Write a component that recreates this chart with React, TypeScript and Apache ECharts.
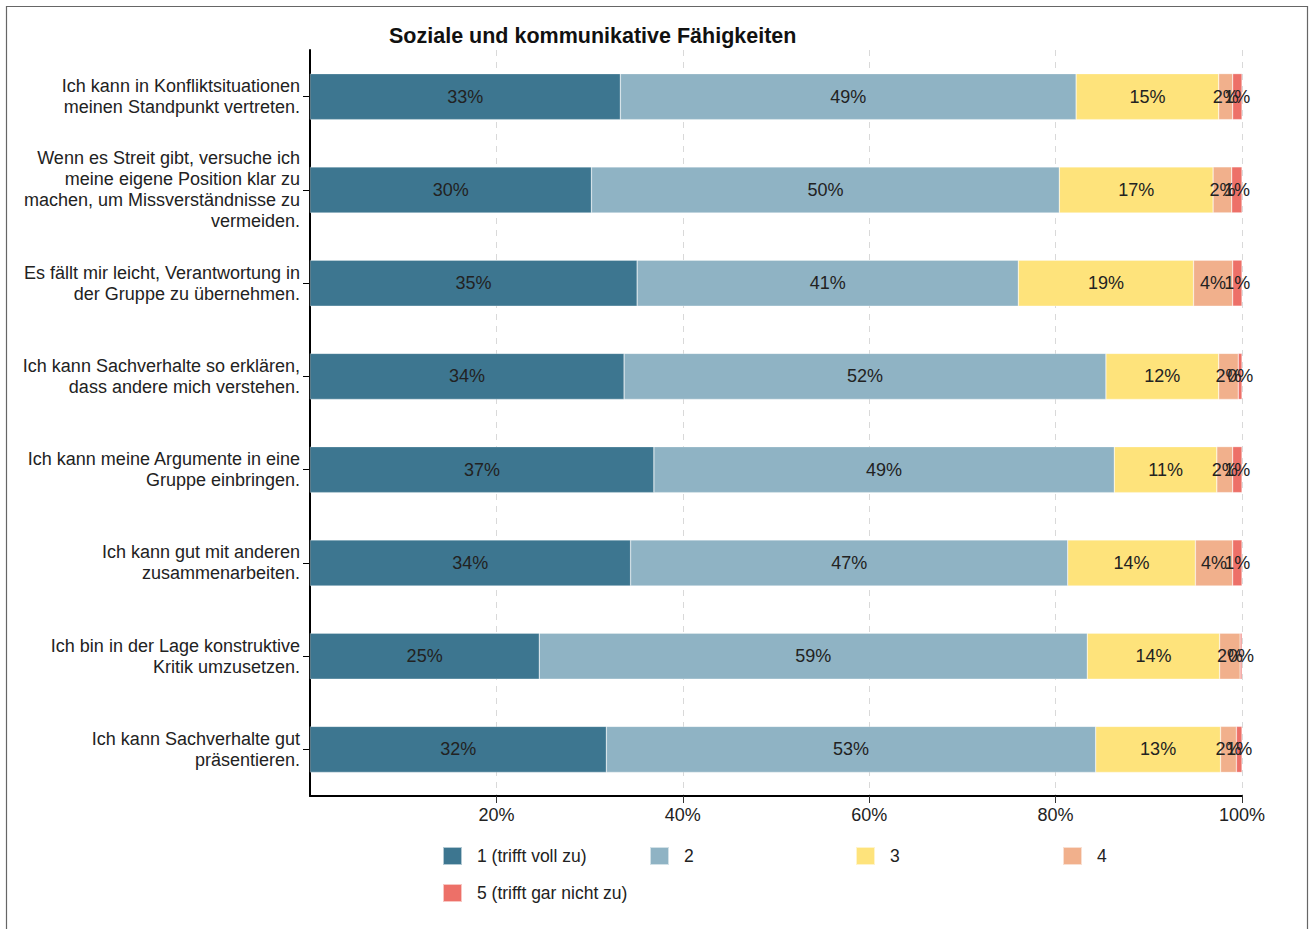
import React, { useEffect, useRef } from "react";
import * as echarts from "echarts";

const categories = [
  "Ich kann in Konfliktsituationen\nmeinen Standpunkt vertreten.",
  "Wenn es Streit gibt, versuche ich\nmeine eigene Position klar zu\nmachen, um Missverständnisse zu\nvermeiden.",
  "Es fällt mir leicht, Verantwortung in\nder Gruppe zu übernehmen.",
  "Ich kann Sachverhalte so erklären,\ndass andere mich verstehen.",
  "Ich kann meine Argumente in eine\nGruppe einbringen.",
  "Ich kann gut mit anderen\nzusammenarbeiten.",
  "Ich bin in der Lage konstruktive\nKritik umzusetzen.",
  "Ich kann Sachverhalte gut\npräsentieren.",
];

const seriesNames = ["1 (trifft voll zu)", "2", "3", "4", "5 (trifft gar nicht zu)"];
const seriesColors = ["#3d7690", "#8fb3c4", "#fee37b", "#f1b08c", "#ed7068"];

const values1 = [33.3, 30.2, 35.1, 33.7, 36.9, 34.4, 24.6, 31.8];
const values2 = [48.9, 50.2, 40.9, 51.7, 49.4, 46.9, 58.8, 52.5];
const values3 = [15.3, 16.5, 18.8, 12.1, 11.0, 13.7, 14.2, 13.4];
const values4 = [1.5, 2.0, 4.2, 2.1, 1.7, 4.0, 2.2, 1.7];
const values5 = [1.0, 1.1, 1.0, 0.4, 1.0, 1.0, 0.2, 0.6];

const xTicks = [20, 40, 60, 80, 100];

const legendPos = [
  { left: 442, top: 846 },
  { left: 649, top: 846 },
  { left: 855, top: 846 },
  { left: 1062, top: 846 },
  { left: 442, top: 883 },
];

export default function App() {
  const ref = useRef<HTMLDivElement>(null);
  useEffect(() => {
    if (!ref.current) return;
    const chart = echarts.init(ref.current, undefined, { renderer: "svg" });
    const allValues = [values1, values2, values3, values4, values5];
    const font = "Liberation Sans, Arial, sans-serif";
    chart.setOption({
      animation: false,
      backgroundColor: "#ffffff",
      textStyle: { fontFamily: font },
      title: {
        text: "Soziale und kommunikative Fähigkeiten",
        left: 389,
        top: 25,
        padding: 0,
        textStyle: { fontSize: 21.5, fontWeight: "bold", color: "#111", fontFamily: font },
      },
      graphic: [
        {
          type: "rect",
          shape: { x: 6.5, y: 6.5, width: 1301, height: 960 },
          style: { fill: "none", stroke: "#666", lineWidth: 1.2 },
          silent: true,
        },
      ],
      legend: seriesNames.map((n, i) => ({
        data: [n],
        left: legendPos[i].left,
        top: legendPos[i].top,
        padding: 0,
        itemWidth: 19,
        itemHeight: 18,
        icon: "rect",
        selectedMode: false,
        textStyle: { fontSize: 17.5, color: "#222", fontFamily: font, padding: [5, 0, 0, 10] },
      })),
      grid: { left: 310, right: 67, top: 50, bottom: 133, containLabel: false },
      xAxis: {
        type: "value",
        min: 0,
        max: 100,
        interval: 20,
        axisLine: { show: true, lineStyle: { color: "#000", width: 2 } },
        axisTick: { show: true, length: 7, customValues: xTicks, lineStyle: { color: "#333", width: 1 } },
        axisLabel: {
          fontSize: 18,
          color: "#222",
          margin: 10,
          customValues: xTicks,
          formatter: (v: number) => (v === 0 ? "" : v + "%"),
        },
        splitLine: { show: true, lineStyle: { color: "#d9d9d9", type: [6, 6], width: 1 } },
      },
      yAxis: {
        type: "category",
        data: categories,
        inverse: true,
        axisLine: { show: true, lineStyle: { color: "#000", width: 2 } },
        axisTick: { show: true, length: 7, alignWithLabel: true, lineStyle: { color: "#000", width: 1 } },
        axisLabel: { fontSize: 18, color: "#222", lineHeight: 21, margin: 10, align: "right", padding: [3, 0, 0, 0] },
        splitLine: { show: false },
      },
      series: seriesNames.map((n, i) => ({
        name: n,
        type: "bar",
        stack: "total",
        barWidth: 46,
        data: allValues[i],
        itemStyle: { color: seriesColors[i], borderColor: "rgba(255,255,255,0.6)", borderWidth: 0.5 },
        label: {
          show: true,
          position: "inside",
          fontSize: 18,
          color: "#222",
          fontFamily: font,
          formatter: (p: any) => Math.round(p.value) + "%",
        },
      })),
    });
    return () => chart.dispose();
  }, []);
  return (
    <div
      ref={ref}
      style={{ position: "fixed", left: 0, top: 0, width: 1309, height: 929 }}
    />
  );
}
